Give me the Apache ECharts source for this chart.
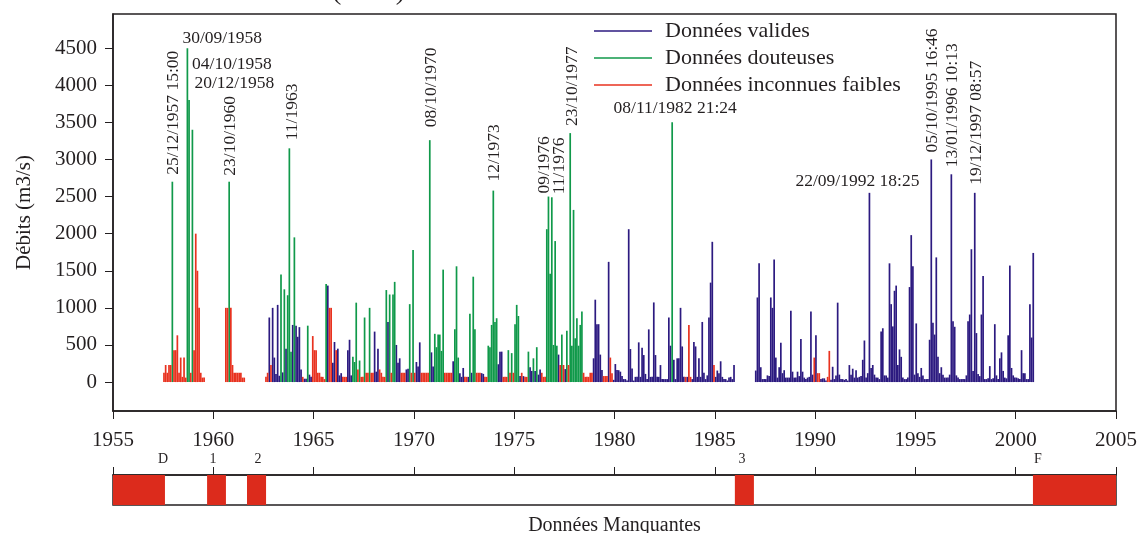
<!DOCTYPE html>
<html>
<head>
<meta charset="utf-8">
<script src="https://cdn.jsdelivr.net/npm/echarts@6/dist/echarts.min.js"></script>
<style>html,body{margin:0;padding:0;background:#fff}#c{width:1137px;height:533px}</style>
</head>
<body>
<div id="c"></div>
<script>
// ---------------- DATA ----------------
const seriesNames = ['Données valides', 'Données douteuses', 'Données inconnues faibles'];
const qualityCodes = ['V', 'D', 'I'];

// monthly maxima, each segment starts at [year, month]
const segStarts = [[1957, 7], [1960, 8], [1962, 8], [1987, 1]];

const flowsA = [125,230,125,230,230,2700,
  430,430,630,125,330,70,330,60,4500,3800,125,3400,
  430,2000,1500,1000,125,60,60];
const qualA = 'IIIIID IIIIIIIIDDID IIIIIII';

const flowsB = [1000,1000,2700,1000,230,
  125,125,125,125,125,60,60];
const qualB = 'IIDII IIIIIII';

const flowsC = [70,125,870,230,1000,
  330,110,1040,85,1450,130,1250,450,1170,3150,410,770,
  1950,760,610,740,170,70,45,45,760,100,70,620,
  430,430,125,125,70,70,40,1320,1300,1000,1000,260,
  540,430,450,90,120,70,70,70,430,570,90,340,
  270,1070,170,290,70,70,870,125,125,1000,125,125,
  680,140,450,170,125,70,70,1240,810,1180,125,1180,
  1350,500,260,320,125,125,125,170,180,1050,125,1780,
  125,270,210,535,125,125,125,125,125,3260,400,210,
  650,470,640,640,420,1515,125,125,125,125,125,280,
  710,1560,330,120,70,190,70,70,70,920,125,1420,
  710,125,125,125,120,110,70,70,490,470,770,2580,
  810,860,240,410,410,70,70,70,430,125,390,125,
  780,1040,890,80,125,80,70,70,410,200,150,320,
  150,470,100,170,125,70,70,2060,2500,1460,2490,500,
  1900,490,370,230,640,230,175,690,230,3355,490,2320,
  590,860,490,770,950,125,70,70,70,125,125,320,
  1110,780,780,370,162,81,81,81,1620,330,120,30,
  243,162,160,140,81,40,40,20,2060,445,184,20,
  70,70,535,70,462,364,110,40,710,70,70,1073,
  364,70,70,229,40,40,40,40,870,490,3500,300,
  40,320,320,1000,480,70,70,70,770,70,40,540,
  480,70,320,70,810,125,40,90,870,1340,1890,230,
  70,155,120,280,70,40,40,20,60,70,40,229];
const qualC = 'IIVIV VVVVDVDVDDDV DVVVVIVVDVVI IIIIIIIDVIIV VIVVVIIIVVVD DDIDIIDIIDII ' +
  'VVVIIIIDVDID DVVVIIIVVDID IVVVIIIIIDVV DDDDDDIIIIIV DDDVVVIIVDVD DIIIVVIIDDDD ' +
  'DDVVVIIIDIDI DDDVIVIIDVVD VDVVIIIDDDDD DDVIDIVDIDDD DDDDDIIIIIIV VVVVVIIIVIIV ' +
  'VVVVVVVVVVVV VVVVVVVVVVVV VVVVVVVVVVDV VVVVVVIVIIVV VVVVVVVVVVVI VVVVVVVVVVVV';

const flowsD = [155,1140,1600,200,40,40,40,90,80,1140,1000,1650,
  330,60,200,530,120,160,60,60,60,960,140,60,
  60,140,80,580,140,60,40,60,70,950,100,330,
  630,120,120,40,50,50,20,70,420,30,206,40,
  90,1070,100,40,40,30,40,20,229,100,180,60,
  160,60,70,80,300,560,60,120,2550,190,230,100,
  60,60,40,680,725,90,90,60,1600,1050,750,1230,
  1300,230,440,340,60,40,40,60,1280,1980,1560,100,
  790,120,70,190,90,40,40,40,570,3000,800,640,
  1680,340,120,200,100,60,60,60,100,2800,820,745,
  90,60,40,40,40,40,90,820,910,1790,150,2550,
  660,110,80,910,1430,40,40,50,215,40,50,780,
  90,40,320,400,150,60,50,630,1570,190,90,60,
  60,50,40,430,120,120,40,40,1050,600,1740];
const qualD = 'VVVVVVVVVVVV VVVVVVVVVVVV VVVVVVVVVVVI VIIVVVVIIVVV VVVVVVVVVVVV VVVVVVVVVVVV ' +
  'VVVVVVVVVVVV VVVVVVVVVVVV VVVVVVVVVVVV VVVVVVVVVVVV VVVVVVVVVVVV VVVVVVVVVVVV ' +
  'VVVVVVVVVVVV VVVVVVVVVVV';

const segFlows = [flowsA, flowsB, flowsC, flowsD];
const segQual = [qualA, qualB, qualC, qualD];

const yTicks = [0, 500, 1000, 1500, 2000, 2500, 3000, 3500, 4000, 4500];

// missing-data periods (decimal years) and their marks
const missingPeriods = [[1955.0, 1957.59], [1959.69, 1960.63], [1961.68, 1962.63], [1986.0, 1986.95], [2000.86, 2005.0]];
const missingLabels = ['D', '1', '2', '3', 'F'];
const missingLabelYears = [1957.49, 1959.99, 1962.23, 1986.36, 2001.11];

// annotated peaks
const annotMonths = ['1957-12','1958-09','1958-10','1958-12','1960-10','1963-10','1970-10','1973-12',
  '1976-09','1976-11','1977-10','1982-11','1992-09','1995-10','1996-10','1997-12'];
const annotTexts = ['25/12/1957 15:00','30/09/1958','04/10/1958','20/12/1958','23/10/1960','11/1963','08/10/1970','12/1973',
  '09/1976','11/1976','23/10/1977','08/11/1982 21:24','22/09/1992 18:25','05/10/1995 16:46','13/01/1996 10:13','19/12/1997 08:57'];

// ---------------- LAYOUT / STYLE ----------------
const annotLayout = [
  {rot:1, dx:1, dy:7}, {rot:0, dx:-5, dy:10, align:'left'}, {rot:0, dx:3, dy:36, align:'left'}, {rot:0, dx:2, dy:46, align:'left'},
  {rot:1, dx:1, dy:6}, {rot:1, dx:3, dy:8}, {rot:1, dx:2, dy:13}, {rot:1, dx:1, dy:9},
  {rot:1, dx:-4, dy:3}, {rot:1, dx:8, dy:3}, {rot:1, dx:2, dy:7}, {rot:0, dx:3, dy:14, align:'center'},
  {rot:0, dx:-12, dy:11, align:'center'}, {rot:1, dx:1, dy:7}, {rot:1, dx:1, dy:7}, {rot:1, dx:2, dy:8}
];
const FONT = '"Liberation Serif", "DejaVu Serif", serif';
const INK = '#231f20';
const colors = ['#2c1a80', '#10994a', '#e8321f'];
const stripRed = '#dc2b1c';

// ---------------- BUILD ----------------
const seriesData = [[], [], []];
const byMonth = {};
segStarts.forEach((st, s) => {
  const vals = segFlows[s];
  const q = segQual[s].replace(/\s+/g, '');
  if (q.length !== vals.length) console.warn('segment', s, 'length mismatch', q.length, vals.length);
  vals.forEach((v, k) => {
    const m0 = st[1] - 1 + k;
    const yr = st[0] + Math.floor(m0 / 12);
    const mo = m0 % 12;
    const x = yr + (mo + 0.5) / 12;
    const qi = qualityCodes.indexOf(q[k]);
    seriesData[qi].push([x, v]);
    byMonth[yr + '-' + String(mo + 1).padStart(2, '0')] = [x, v];
  });
});
const annotPoints = annotMonths.map(m => byMonth[m]);

const barSeries = seriesNames.map((n, i) => ({
  name: n, type: 'bar', xAxisIndex: 0, yAxisIndex: 0,
  data: seriesData[i], barWidth: 1.7, barGap: '-100%',
  itemStyle: {color: colors[i]}, silent: true, z: 2
}));

const chart = echarts.init(document.getElementById('c'), null, {renderer: 'canvas'});
const axisTextStyle = {fontFamily: FONT, fontSize: 21, color: INK};

chart.setOption({
  animation: false,
  backgroundColor: '#fff',
  title: {
    text: 'Débits maximaux mensuels (m3/s)', right: 727, top: -27,
    textStyle: {fontFamily: FONT, fontSize: 28, fontWeight: 'normal', color: INK}
  },
  legend: {
    orient: 'vertical', left: 594, top: 19, itemGap: 3, padding: 0,
    itemWidth: 58, itemHeight: 1.5,
    data: seriesNames.map(n => ({name: n, icon: 'rect'})),
    textStyle: {fontFamily: FONT, fontSize: 22, color: INK, lineHeight: 24, padding: [0, 0, 0, 8]},
    selectedMode: false
  },
  grid: [
    {left: 113, right: 21, top: 14, height: 397, show: true, borderColor: INK, borderWidth: 1.5,
     outerBoundsMode: 'none', containLabel: false},
    {left: 113, right: 21, top: 475, height: 30, show: true, borderColor: INK, borderWidth: 1.5,
     outerBoundsMode: 'none', containLabel: false}
  ],
  xAxis: [
    {type: 'value', gridIndex: 0, min: 1955, max: 2005, interval: 5,
     axisLine: {show: true, onZero: false, lineStyle: {color: INK, width: 1.5}},
     axisTick: {show: true, length: 8, lineStyle: {color: INK, width: 1}},
     axisLabel: Object.assign({margin: 19, formatter: v => String(v)}, axisTextStyle),
     splitLine: {show: false}},
    {type: 'value', gridIndex: 1, position: 'top', min: 1955, max: 2005, interval: 5,
     axisLine: {show: true, onZero: false, lineStyle: {color: INK, width: 1.5}},
     axisTick: {show: true, length: 8, lineStyle: {color: INK, width: 1}},
     axisLabel: {show: false}, splitLine: {show: false}},
    {type: 'value', gridIndex: 1, position: 'bottom', min: 1955, max: 2005,
     axisLine: {show: false, onZero: false}, axisTick: {show: false}, axisLabel: {show: false}, splitLine: {show: false},
     name: 'Données Manquantes', nameLocation: 'middle', nameGap: 11,
     nameTextStyle: {fontFamily: FONT, fontSize: 20, color: INK}}
  ],
  yAxis: [
    {type: 'value', gridIndex: 0, min: -390, max: 4960,
     axisLine: {show: true, onZero: false, lineStyle: {color: INK, width: 1.5}},
     axisTick: {show: true, length: 8, customValues: yTicks, lineStyle: {color: INK, width: 1}},
     axisLabel: Object.assign({margin: 16, customValues: yTicks, formatter: v => String(v)}, axisTextStyle),
     splitLine: {show: false},
     name: 'Débits (m3/s)', nameLocation: 'middle', nameGap: 78,
     nameTextStyle: {fontFamily: FONT, fontSize: 21, color: INK}},
    {type: 'value', gridIndex: 1, min: 0, max: 1, show: false}
  ],
  series: barSeries.concat([
    {
      type: 'custom', name: 'annotations', xAxisIndex: 0, yAxisIndex: 0, z: 5, silent: true,
      data: annotPoints,
      renderItem(params, api) {
        const i = params.dataIndex;
        const p = api.coord([api.value(0), api.value(1)]);
        const L = annotLayout[i];
        return {
          type: 'text', x: p[0] + L.dx, y: p[1] - L.dy,
          rotation: L.rot ? Math.PI / 2 : 0,
          style: {text: annotTexts[i], fontFamily: FONT, fontSize: 17.5, fill: INK,
                  align: L.rot ? 'left' : L.align, verticalAlign: 'middle'}
        };
      }
    },
    {
      type: 'custom', name: 'missing', xAxisIndex: 1, yAxisIndex: 1, z: 3, silent: true,
      data: missingPeriods.map((p, i) => [p[0], p[1], missingLabelYears[i]]),
      renderItem(params, api) {
        const i = params.dataIndex;
        const a = api.coord([api.value(0), 1]);
        const b = api.coord([api.value(1), 0]);
        const t = api.coord([api.value(2), 1]);
        return {
          type: 'group',
          children: [
            {type: 'rect', shape: {x: a[0], y: a[1], width: b[0] - a[0], height: b[1] - a[1]},
             style: {fill: stripRed}},
            {type: 'text', x: t[0], y: t[1] - 16,
             style: {text: missingLabels[i], fontFamily: FONT, fontSize: 14, fill: INK,
                     align: 'center', verticalAlign: 'middle'}}
          ]
        };
      }
    }
  ])
});
</script>
</body>
</html>
